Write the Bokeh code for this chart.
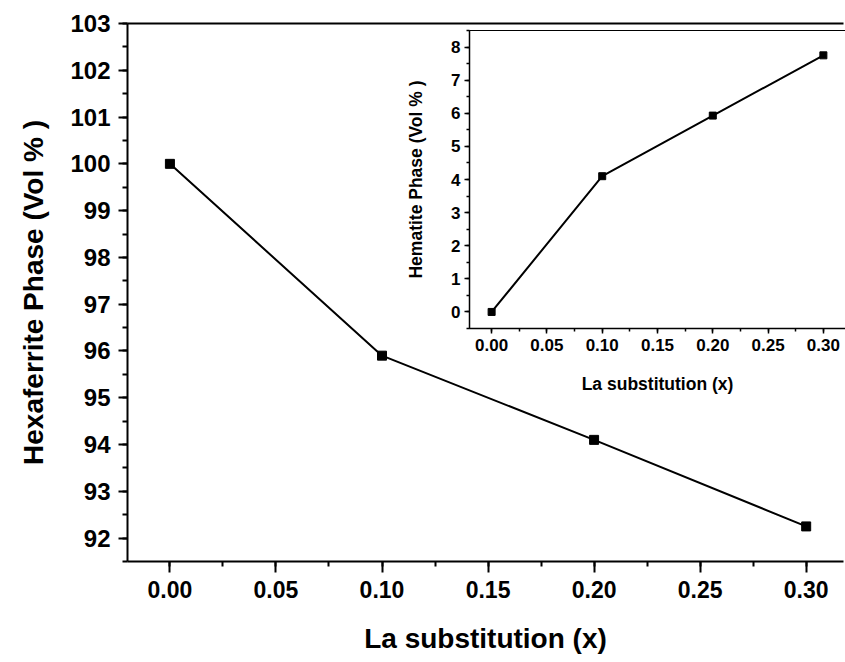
from bokeh.plotting import figure
from bokeh.models import (SingleIntervalTicker, NumeralTickFormatter, LinearAxis,
                          FixedTicker, Range1d)
from bokeh.layouts import column
from bokeh.embed import file_html
from bokeh.resources import INLINE

# ---- data ----
la_x = [0.0, 0.1, 0.2, 0.3]
hexaferrite_vol = [100.0, 95.9, 94.1, 92.25]
hematite_vol = [0.0, 4.1, 5.93, 7.75]

main_x_label = "La substitution (x)"
main_y_label = "Hexaferrite Phase (Vol % )"
inset_x_label = "La substitution (x)"
inset_y_label = "Hematite Phase (Vol % )"

FONT = "Liberation Sans"


def style_axis(ax, tick_size, label_size, major_out, minor_out, lw, lab_standoff, tick_standoff):
    ax.axis_line_width = lw
    ax.axis_line_color = "black"
    ax.major_tick_in = 0
    ax.minor_tick_in = 0
    ax.major_tick_out = major_out
    ax.minor_tick_out = minor_out
    ax.major_tick_line_width = lw
    ax.minor_tick_line_width = lw
    ax.major_tick_line_color = "black"
    ax.minor_tick_line_color = "black"
    ax.major_label_text_font = FONT
    ax.major_label_text_font_style = "bold"
    ax.major_label_text_font_size = tick_size
    ax.major_label_text_color = "black"
    ax.major_label_standoff = tick_standoff
    ax.axis_label_text_font = FONT
    ax.axis_label_text_font_style = "bold"
    ax.axis_label_text_font_size = label_size
    ax.axis_label_text_color = "black"
    ax.axis_label_standoff = lab_standoff


# ---- main plot ----
main = figure(width=844, height=660,
              x_range=Range1d(-0.02, 0.3176), y_range=Range1d(91.5, 103),
              output_backend="svg", toolbar_location=None,
              min_border_left=127, min_border_right=0,
              min_border_top=23, min_border_bottom=99)
main.outline_line_color = None
main.grid.visible = False
main.background_fill_color = "white"
main.border_fill_color = "white"

main.line(la_x, hexaferrite_vol, line_color="black", line_width=2)
main.scatter(la_x, hexaferrite_vol, marker="square", size=9,
             fill_color="black", line_color="black")

main.xaxis.ticker = SingleIntervalTicker(interval=0.05, num_minor_ticks=2)
main.xaxis.formatter = NumeralTickFormatter(format="0.00")
main.xaxis.axis_label = main_x_label
style_axis(main.xaxis[0], "23px", "28px", 11, 5, 2, 22, 8)

main.yaxis.ticker = SingleIntervalTicker(interval=1, num_minor_ticks=2)
main.yaxis.axis_label = main_y_label
style_axis(main.yaxis[0], "24px", "28px", 9, 5, 2, 18, 8)

top_spine = LinearAxis(ticker=FixedTicker(ticks=[]))
top_spine.axis_line_width = 2
top_spine.axis_line_color = "black"
top_spine.major_tick_line_color = None
top_spine.minor_tick_line_color = None
top_spine.major_label_text_font_size = "0px"
main.add_layout(top_spine, "above")

# ---- inset ----
# (the column aligns the inset's left border with the main plot's 127 px border)
inset = figure(width=504, height=374,
               x_range=Range1d(-0.02, 0.32), y_range=Range1d(-0.5, 8.5),
               output_backend="svg", toolbar_location=None,
               min_border_left=127, min_border_right=1,
               min_border_top=4, min_border_bottom=72)
inset.border_fill_alpha = 0
inset.background_fill_color = "white"
inset.outline_line_color = "black"
inset.outline_line_width = 1
inset.grid.visible = False
inset.styles = {"position": "absolute", "left": "342px", "top": "26px"}

inset.line(la_x, hematite_vol, line_color="black", line_width=2)
inset.scatter(la_x, hematite_vol, marker="square", size=7,
              fill_color="black", line_color="black")

inset.xaxis.ticker = SingleIntervalTicker(interval=0.05, num_minor_ticks=2)
inset.xaxis.formatter = NumeralTickFormatter(format="0.00")
inset.xaxis.axis_label = inset_x_label
style_axis(inset.xaxis[0], "17px", "17.5px", 5, 3, 1.5, 20, 5)

inset.yaxis.ticker = SingleIntervalTicker(interval=1, num_minor_ticks=2)
inset.yaxis.axis_label = inset_y_label
style_axis(inset.yaxis[0], "17px", "17.5px", 5, 3, 1.5, 22, 4)

layout = column(main, inset)

open("out.html", "w").write(file_html(layout, INLINE))
